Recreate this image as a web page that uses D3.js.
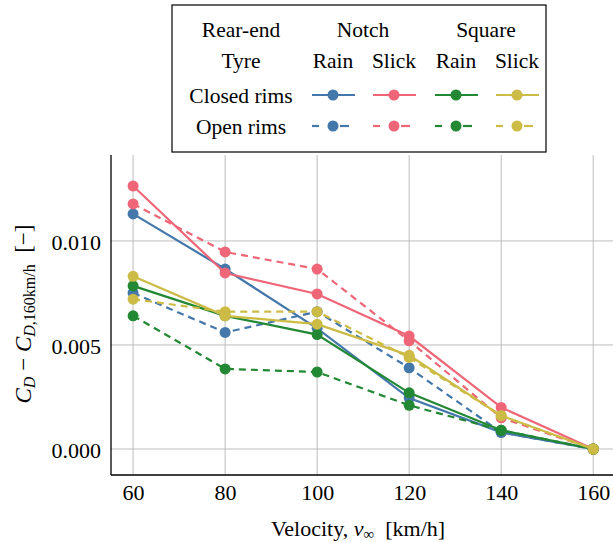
<!DOCTYPE html>
<html>
<head>
<meta charset="utf-8">
<script src="https://cdn.jsdelivr.net/npm/d3@7"></script>
<style>
  body { margin: 0; background: #fff; }
</style>
</head>
<body>
<script>
const width = 613;
const height = 543;
const serif = '"Liberation Serif"';

// data
const velocities = [60, 80, 100, 120, 140, 160];
const notchRainClosed  = [0.0113, 0.00865, 0.0058, 0.00245, 0.0008, 0];
const notchSlickClosed = [0.01264, 0.00846, 0.00745, 0.00543, 0.0020, 0];
const squareRainClosed = [0.00784, 0.0064, 0.0055, 0.0027, 0.0009, 0];
const squareSlickClosed = [0.0083, 0.0064, 0.0060, 0.0045, 0.0016, 0];
const notchRainOpen  = [0.0075, 0.0056, 0.0066, 0.0039, 0.0008, 0];
const notchSlickOpen = [0.01178, 0.00947, 0.00865, 0.0052, 0.0015, 0];
const squareRainOpen = [0.0064, 0.00385, 0.0037, 0.0021, 0.0009, 0];
const squareSlickOpen = [0.0072, 0.0066, 0.0066, 0.0044, 0.0016, 0];
const xTicks = [60, 80, 100, 120, 140, 160];
const yTicks = [0, 0.005, 0.010];

const colors = { notchRain: '#4477AA', notchSlick: '#EE6677', squareRain: '#228833', squareSlick: '#CCBB44' };

const series = [
  { values: notchRainClosed, color: colors.notchRain, dashed: false },
  { values: notchSlickClosed, color: colors.notchSlick, dashed: false },
  { values: notchRainOpen, color: colors.notchRain, dashed: true },
  { values: notchSlickOpen, color: colors.notchSlick, dashed: true },
  { values: squareRainOpen, color: colors.squareRain, dashed: true },
  { values: squareRainClosed, color: colors.squareRain, dashed: false },
  { values: squareSlickOpen, color: colors.squareSlick, dashed: true },
  { values: squareSlickClosed, color: colors.squareSlick, dashed: false }
];

const plot = { left: 111, right: 613, top: 155, bottom: 475 };

const x = d3.scaleLinear().domain([55.2, 164.3]).range([plot.left, plot.right]);
const y = d3.scaleLinear().domain([-0.00125, 0.01413]).range([plot.bottom, plot.top]);

const svg = d3.select('body').append('svg')
  .attr('width', width)
  .attr('height', height)
  .style('font-family', serif);

// grid
svg.append('g')
  .selectAll('line')
  .data(xTicks)
  .join('line')
  .attr('x1', d => x(d)).attr('x2', d => x(d))
  .attr('y1', plot.top).attr('y2', plot.bottom)
  .attr('stroke', '#bdbdbd').attr('stroke-width', 1);

svg.append('g')
  .selectAll('line')
  .data(yTicks)
  .join('line')
  .attr('x1', plot.left).attr('x2', plot.right)
  .attr('y1', d => y(d)).attr('y2', d => y(d))
  .attr('stroke', '#bdbdbd').attr('stroke-width', 1);

// axes
const xAxis = d3.axisBottom(x).tickValues(xTicks).tickSize(0).tickPadding(9).tickFormat(d3.format('d'));
const yAxis = d3.axisLeft(y).tickValues(yTicks).tickSize(0).tickPadding(10).tickFormat(d3.format('.3f'));

const gx = svg.append('g')
  .attr('transform', `translate(0, ${plot.bottom})`)
  .call(xAxis);
gx.select('.domain').remove();
gx.selectAll('text').attr('font-size', 22).style('font-family', serif);

const gy = svg.append('g')
  .attr('transform', `translate(${plot.left}, 0)`)
  .call(yAxis);
gy.select('.domain').remove();
gy.selectAll('text').attr('font-size', 22).style('font-family', serif).attr('dy', '0.38em');

svg.append('line')
  .attr('x1', plot.left).attr('x2', plot.right)
  .attr('y1', plot.bottom).attr('y2', plot.bottom)
  .attr('stroke', '#000').attr('stroke-width', 1.3);
svg.append('line')
  .attr('x1', plot.left).attr('x2', plot.left)
  .attr('y1', plot.top).attr('y2', plot.bottom)
  .attr('stroke', '#000').attr('stroke-width', 1.3);

// series
const line = d3.line()
  .x((d, i) => x(velocities[i]))
  .y(d => y(d));

series.forEach(s => {
  svg.append('path')
    .datum(s.values)
    .attr('d', line)
    .attr('fill', 'none')
    .attr('stroke', s.color)
    .attr('stroke-width', 2.2)
    .attr('stroke-dasharray', s.dashed ? '7,5' : null);
  svg.append('g')
    .selectAll('circle')
    .data(s.values)
    .join('circle')
    .attr('cx', (d, i) => x(velocities[i]))
    .attr('cy', d => y(d))
    .attr('r', 5.5)
    .attr('fill', s.color);
});

// axis labels
svg.append('text')
  .attr('x', 358)
  .attr('y', 536)
  .attr('text-anchor', 'middle')
  .attr('font-size', 22)
  .style('font-family', serif)
  .call(t => {
    t.append('tspan').text('Velocity, ');
    t.append('tspan').attr('font-style', 'italic').text('v');
    t.append('tspan').attr('font-size', 15).attr('baseline-shift', '-20%').text('\u221E');
    t.append('tspan').text('\u2002[km/h]');
  });

svg.append('text')
  .attr('transform', 'translate(31, 314) rotate(-90)')
  .attr('text-anchor', 'middle')
  .attr('font-size', 23)
  .style('font-family', serif)
  .call(t => {
    t.append('tspan').attr('font-style', 'italic').text('C');
    t.append('tspan').attr('font-style', 'italic').attr('font-size', 16).attr('baseline-shift', '-25%').text('D');
    t.append('tspan').attr('baseline-shift', '0').text(' \u2212 ');
    t.append('tspan').attr('font-style', 'italic').text('C');
    t.append('tspan').attr('font-size', 16).attr('baseline-shift', '-25%')
      .call(s => {
        s.append('tspan').attr('font-style', 'italic').text('D');
        s.append('tspan').text(',160km/h');
      });
    t.append('tspan').text('\u2002[\u2212]');
  });

// legend
const legend = svg.append('g');
legend.append('rect')
  .attr('x', 172).attr('y', 5)
  .attr('width', 374).attr('height', 147)
  .attr('fill', '#fff').attr('stroke', '#000').attr('stroke-width', 1.2);

const colX = [333, 394, 456, 517];
const rowY = [29, 60, 95, 126];

const headText = (tx, ty, str) => legend.append('text')
  .attr('x', tx).attr('y', ty).attr('dy', '0.35em')
  .attr('text-anchor', 'middle').attr('font-size', 21.5)
  .style('font-family', serif).text(str);

headText(241, rowY[0], 'Rear-end');
headText(241, rowY[1], 'Tyre');
headText(363, rowY[0], 'Notch');
headText(486, rowY[0], 'Square');
['Rain', 'Slick', 'Rain', 'Slick'].forEach((s, i) => headText(colX[i], rowY[1], s));
headText(241, rowY[2], 'Closed rims');
headText(241, rowY[3], 'Open rims');

const legendColors = [colors.notchRain, colors.notchSlick, colors.squareRain, colors.squareSlick];
legendColors.forEach((c, i) => {
  [false, true].forEach((dashed, j) => {
    const cy = rowY[2 + j];
    if (dashed) {
      legend.append('line').attr('x1', colX[i] - 21).attr('x2', colX[i] - 14)
        .attr('y1', cy).attr('y2', cy).attr('stroke', c).attr('stroke-width', 2.2);
      legend.append('line').attr('x1', colX[i] + 7).attr('x2', colX[i] + 16)
        .attr('y1', cy).attr('y2', cy).attr('stroke', c).attr('stroke-width', 2.2);
    } else {
      legend.append('line').attr('x1', colX[i] - 21).attr('x2', colX[i] + 22)
        .attr('y1', cy).attr('y2', cy).attr('stroke', c).attr('stroke-width', 2.2);
    }
    legend.append('circle').attr('cx', colX[i]).attr('cy', cy).attr('r', 5.5).attr('fill', c);
  });
});
</script>
</body>
</html>
